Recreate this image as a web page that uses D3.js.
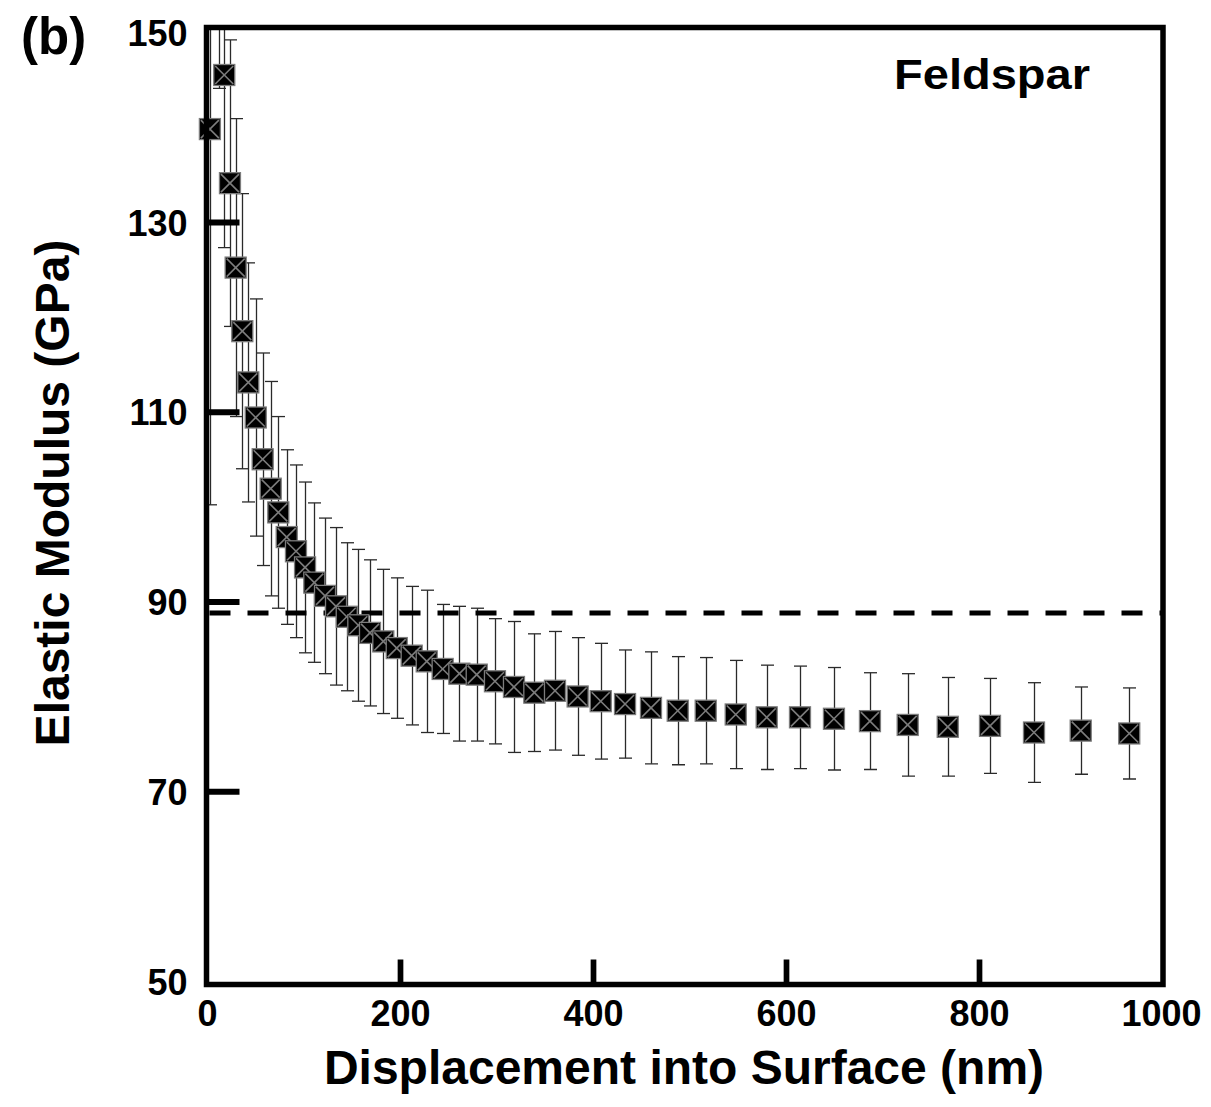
<!DOCTYPE html>
<html><head><meta charset="utf-8">
<script src="https://cdn.jsdelivr.net/npm/d3@7"></script>
<style>
body{margin:0;background:#fff}
svg{display:block}
text{font-family:"Liberation Sans",Arial,Helvetica,sans-serif;font-weight:bold;fill:#000}
</style>
</head><body>
<svg id="chart" width="1211" height="1107"></svg>
<script>
// ---- data ----
const depth = [3, 12.4, 17.9, 23.8, 29.7, 36.6, 42.8, 50.5, 57.7, 66.0,
  73.9, 82.6, 92.2, 101.6, 111.2, 122.3, 133.7, 144.8, 156.8, 168.9,
  182.7, 196.6, 212.1, 227.7, 244.2, 261.5, 279.5, 298.4, 318.1, 339.2,
  360.6, 384.1, 408.0, 433.2, 460.1, 487.8, 516.8, 547.9, 580.0, 614.5,
  649.7, 687.0, 726.1, 767.6, 811.4, 857.0, 905.4, 955.7];
const modulus = [139.8, 160, 145.5, 134.1, 125.2, 118.5, 113.1, 109.4, 105.0, 101.9,
  99.4, 96.8, 95.3, 93.6, 92.0, 90.6, 89.5, 88.4, 87.5, 86.7,
  85.8, 85.1, 84.3, 83.7, 82.9, 82.4, 82.3, 81.6, 81.0, 80.4,
  80.6, 80.0, 79.5, 79.2, 78.8, 78.5, 78.5, 78.1, 77.8, 77.8,
  77.65, 77.4, 77.0, 76.8, 76.9, 76.2, 76.4, 76.1];
const modErr = [39.6, 15.9, 18.2, 15.1, 15.7, 14.5, 12.6, 12.5, 11.2, 11.3,
  10.1, 9.2, 9.1, 9.0, 8.4, 8.2, 8.3, 7.8, 8.0, 7.7,
  7.6, 7.4, 7.3, 7.5, 6.8, 7.1, 7.0, 6.6, 6.9, 6.2,
  6.25, 6.2, 6.1, 5.7, 5.9, 5.7, 5.6, 5.7, 5.5, 5.4,
  5.4, 5.1, 5.4, 5.2, 5.0, 5.25, 4.6, 4.8];
const xTicks = [0, 200, 400, 600, 800, 1000];
const yTicks = [50, 70, 90, 110, 130, 150];
const refModulus = 88.8;
const sampleLabel = "Feldspar";
const panelLabel = "(b)";
const xTitle = "Displacement into Surface (nm)";
const yTitle = "Elastic Modulus (GPa)";

const points = depth.map((d, i) => ({x: d, y: modulus[i], e: modErr[i]}));

// ---- layout ----
const svg = d3.select("#chart");
const frame = {left: 206.5, top: 27.5, right: 1163, bottom: 984.5};
const x = d3.scaleLinear().domain([0, 1000]).range([207, 1172]);
const y = d3.scaleLinear().domain([50, 150]).range([981.1, 32.3]);

svg.append("defs").append("clipPath").attr("id", "plotclip")
  .append("rect").attr("x", 0).attr("y", frame.top + 2.5)
  .attr("width", 1211).attr("height", frame.bottom - frame.top - 2.5);

// error bars
const eb = svg.append("g").attr("clip-path", "url(#plotclip)")
  .attr("stroke", "#2a2a2a").attr("stroke-width", 1.3).attr("fill", "none");
const capW = 6.5;
points.forEach(p => {
  const cx = Math.round(x(p.x)) + 0.5;
  const y1 = y(p.y + p.e), y2 = y(p.y - p.e);
  eb.append("line").attr("x1", cx).attr("x2", cx).attr("y1", y1).attr("y2", y2);
  eb.append("line").attr("x1", cx - capW).attr("x2", cx + capW).attr("y1", y1).attr("y2", y1);
  eb.append("line").attr("x1", cx - capW).attr("x2", cx + capW).attr("y1", y2).attr("y2", y2);
});

// dashed reference line
svg.append("line")
  .attr("x1", frame.left + 3).attr("x2", frame.right - 2)
  .attr("y1", y(refModulus)).attr("y2", y(refModulus))
  .attr("stroke", "#000").attr("stroke-width", 5)
  .attr("stroke-dasharray", "21 17");

// markers
const s = 10.5;
const mk = svg.append("g");
points.forEach(p => {
  const cx = x(p.x), cy = y(p.y);
  const g = mk.append("g").attr("transform", `translate(${cx},${cy})`);
  g.append("rect").attr("x", -s).attr("y", -s).attr("width", 2 * s).attr("height", 2 * s)
    .attr("fill", "#000").attr("stroke", "#7c7c7c").attr("stroke-width", 1.3);
  const k = s - 1.5;
  g.append("line").attr("x1", -k).attr("y1", -k).attr("x2", k).attr("y2", k)
    .attr("stroke", "#7c7c7c").attr("stroke-width", 1.6);
  g.append("line").attr("x1", -k).attr("y1", k).attr("x2", k).attr("y2", -k)
    .attr("stroke", "#7c7c7c").attr("stroke-width", 1.6);
});

// frame
svg.append("rect")
  .attr("x", frame.left).attr("y", frame.top)
  .attr("width", frame.right - frame.left).attr("height", frame.bottom - frame.top)
  .attr("fill", "none").attr("stroke", "#000").attr("stroke-width", 5.5);

// x axis
const xAxis = svg.append("g").attr("transform", `translate(0,${frame.bottom})`)
  .call(d3.axisBottom(x).tickValues(xTicks).tickFormat(d3.format("d")).tickSize(-25).tickPadding(16));
xAxis.select(".domain").remove();
xAxis.selectAll(".tick line").attr("stroke", "#000").attr("stroke-width", 5.7)
  .filter(d => d === 0 || d === 1000).remove();
xAxis.selectAll(".tick text").attr("font-size", 36)
  .style("font-family", '"Liberation Sans",Arial,sans-serif').style("font-weight", "bold")
  .filter(d => d === 1000).attr("dx", -11);

// y axis
const yAxis = svg.append("g").attr("transform", `translate(${frame.left},0)`)
  .call(d3.axisLeft(y).tickValues(yTicks).tickFormat(d3.format("d")).tickSize(-33).tickPadding(19));
yAxis.select(".domain").remove();
yAxis.selectAll(".tick line").attr("stroke", "#000").attr("stroke-width", 6)
  .filter(d => d === 50 || d === 150).remove();
yAxis.selectAll(".tick text").attr("font-size", 36)
  .style("font-family", '"Liberation Sans",Arial,sans-serif').style("font-weight", "bold")
  .attr("dy", "0.36em");

// titles
svg.append("text").attr("x", 684).attr("y", 1084).attr("text-anchor", "middle")
  .attr("font-size", 48).text(xTitle);
svg.append("text").attr("transform", "translate(69,493) rotate(-90)").attr("text-anchor", "middle")
  .attr("font-size", 48).text(yTitle);
svg.append("text").attr("x", 894).attr("y", 89).attr("font-size", 42)
  .attr("textLength", 196).attr("lengthAdjust", "spacingAndGlyphs").text(sampleLabel);
svg.append("text").attr("x", 21).attr("y", 54).attr("font-size", 51).text(panelLabel);
</script>
</body></html>
